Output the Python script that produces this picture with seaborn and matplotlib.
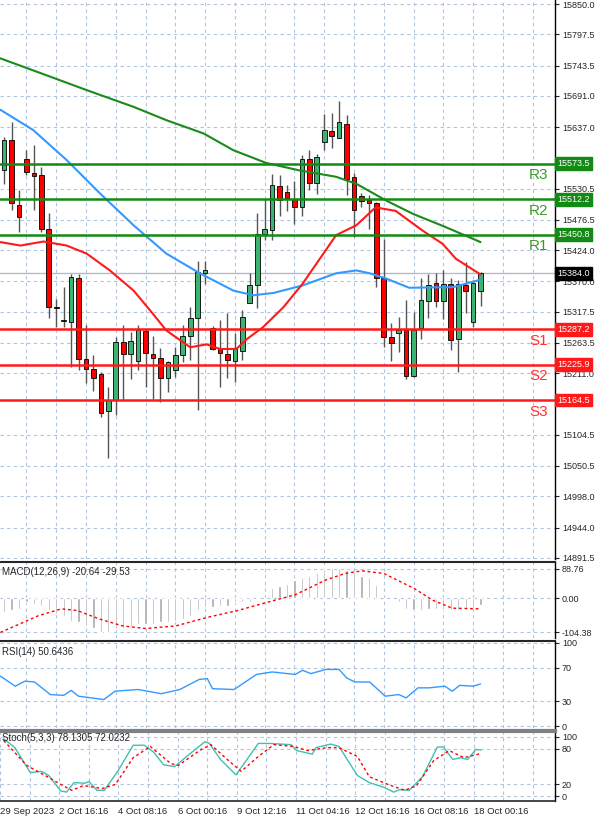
import numpy as np
import pandas as pd
import matplotlib
matplotlib.use("Agg")
import matplotlib.pyplot as plt
import seaborn as sns

# candles (one per 4H bar)
opens = [15562, 15614, 15503, 15581, 15558, 15554, 15461, 15325, 15302, 15299,
         15376, 15236, 15218, 15209, 15145, 15164, 15265, 15245, 15232, 15284,
         15245, 15238, 15203, 15217, 15242, 15276, 15306, 15385, 15290, 15255,
         15245, 15233, 15250, 15333, 15364, 15452, 15459, 15535, 15525, 15513,
         15498, 15581, 15540, 15611, 15630, 15619, 15643, 15550, 15517, 15511,
         15506, 15375, 15273, 15280, 15286, 15207, 15290, 15336, 15367, 15336,
         15366, 15270, 15363, 15300, 15353]
closes = [15614, 15505, 15481, 15559, 15552, 15461, 15325, 15324, 15302, 15378,
          15236, 15218, 15203, 15143, 15164, 15265, 15245, 15266, 15286, 15246,
          15238, 15203, 15230, 15243, 15276, 15306, 15386, 15390, 15253, 15246,
          15234, 15253, 15308, 15364, 15452, 15461, 15536, 15510, 15515, 15498,
          15581, 15540, 15585, 15632, 15621, 15645, 15548, 15493, 15509, 15506,
          15375, 15273, 15263, 15286, 15207, 15286, 15338, 15363, 15336, 15365,
          15269, 15366, 15353, 15368, 15384]
highs = [15620, 15646, 15528, 15597, 15606, 15568, 15488, 15340, 15360, 15383,
         15383, 15294, 15242, 15213, 15187, 15273, 15295, 15282, 15294, 15288,
         15275, 15255, 15233, 15256, 15294, 15325, 15406, 15405, 15292, 15303,
         15315, 15280, 15321, 15384, 15488, 15513, 15556, 15554, 15536, 15544,
         15588, 15597, 15591, 15660, 15662, 15682, 15658, 15557, 15523, 15519,
         15507, 15444, 15298, 15308, 15337, 15317, 15375, 15383, 15384, 15390,
         15375, 15372, 15403, 15372, 15386]
lows = [15539, 15493, 15455, 15554, 15494, 15455, 15306, 15291, 15291, 15221,
        15217, 15194, 15181, 15135, 15065, 15139, 15165, 15201, 15216, 15187,
        15166, 15161, 15178, 15204, 15230, 15234, 15147, 15365, 15251, 15188,
        15203, 15195, 15234, 15333, 15324, 15442, 15441, 15484, 15492, 15470,
        15484, 15529, 15521, 15597, 15600, 15619, 15519, 15447, 15498, 15461,
        15361, 15257, 15232, 15247, 15201, 15204, 15270, 15306, 15325, 15305,
        15251, 15214, 15315, 15291, 15328]

# moving averages: (bar, value)
ma_blue_x = [-0.5, 3.9, 8.4, 12.9, 17.4, 21.8, 26.3, 30.8, 33.5, 36.2, 40.1, 44.6, 47.3, 49.1, 51.3, 54.4, 60.3, 64]
ma_blue_y = [15667, 15632, 15580, 15522, 15467, 15418, 15384, 15354, 15346, 15350, 15363, 15384, 15389, 15384, 15375, 15359, 15360, 15373]
ma_red_x = [-0.5, 2.2, 5.3, 8.4, 11.1, 14.2, 17.4, 19.6, 21.8, 25, 27.2, 29, 31.2, 32.6, 34.8, 37.5, 40.1, 44.6, 47.3, 49.9, 52.6, 56.2, 58.9, 60.7, 64]
ma_red_y = [15438, 15432, 15439, 15432, 15418, 15389, 15354, 15320, 15285, 15256, 15261, 15253, 15253, 15270, 15291, 15325, 15366, 15450, 15467, 15498, 15492, 15458, 15435, 15409, 15382]
ma_green_x = [-0.5, 5, 11.1, 17.4, 21.8, 26.8, 30.8, 35.2, 39.7, 44.6, 47.3, 51.3, 54.9, 59.3, 64]
ma_green_y = [15756, 15730, 15701, 15672, 15649, 15626, 15597, 15575, 15562, 15551, 15539, 15510, 15487, 15464, 15438]

levels = {"R3": 15573.5, "R2": 15512.2, "R1": 15450.8, "S1": 15287.2, "S2": 15225.9, "S3": 15164.5}
last_price = 15384.0
price_ticks = [15850.0, 15797.5, 15743.5, 15691.0, 15637.0, 15530.5, 15476.5, 15424.0,
               15370.0, 15317.5, 15263.5, 15211.0, 15104.5, 15050.5, 14998.0, 14944.0, 14891.5]

macd_hist = [-43, -38, -33, -12, -17, -23, -38, -48, -54, -69, -74, -85, -90, -105, -105, -95,
             -90, -85, -80, -80, -80, -74, -74, -69, -64, -54, -38, -28, -28, -23, -23, -12,
             -12, -12, -2, 0, 31, 37, 44, 55, 65, 68, 75, 89, 91, 91, 86, 80, 68, 65, 41, 0,
             0, -12, -33, -38, -38, -33, -33, -35, -38, -38, -33, -31, -21]
macd_sig_x = [-0.5, 4.6, 7.7, 9.8, 12.8, 15.9, 19.0, 23.1, 27.3, 31.4, 35.5, 39.1, 43.2, 45.8, 48.1, 51.0, 55.1, 57.6, 60.2, 64]
macd_sig_y = [-105, -54, -33, -38, -64, -85, -93, -85, -59, -38, -12, 10, 55, 75, 83, 75, 29, -7, -31, -33]

rsi_x = [-0.5, 1.5, 2.8, 4.1, 6.2, 8.0, 9.0, 10.0, 13.4, 14.9, 18.0, 21.1, 23.6, 26.2, 27.3, 28.0, 30.9, 33.9, 36.0, 39.1, 40.1, 41.2, 43.2, 45.0, 46.0, 47.1, 49.1, 51.2, 53.0, 54.0, 55.6, 57.1, 59.2, 60.2, 61.2, 63.0, 64]
rsi_y = [60, 48, 54, 53, 38, 37, 43, 36, 32, 42, 44, 39, 44, 56, 57, 45, 44, 62, 65, 62, 67, 63, 68, 68, 58, 53, 53, 36, 38, 34, 46, 46, 48, 42, 49, 48, 50.6]

stk_x = [-0.5, 1.0, 3.1, 4.6, 5.6, 7.2, 8.0, 9.0, 10.5, 11.0, 12.1, 13.1, 14.9, 17.0, 18.5, 19.8, 21.1, 22.6, 24.7, 26.7, 27.3, 28.8, 30.9, 33.9, 35.5, 38.3, 39.1, 41.2, 41.7, 43.7, 44.8, 47.3, 48.9, 50.9, 52.2, 53.0, 54.3, 56.1, 58.1, 58.9, 60.2, 61.2, 62.2, 63.3, 64]
stk_y = [97, 82, 40, 42, 35, 9, 7, 23, 22, 25, 10, 10, 42, 86, 86, 74, 53, 50, 72, 92, 89, 62, 36, 89, 89, 87, 77, 71, 82, 88, 84, 35, 23, 15, 7, 11, 10, 33, 83, 83, 62, 65, 62, 79, 78]
std_x = [-0.5, 2.6, 5.1, 7.2, 8.7, 10.3, 12.8, 14.6, 17.0, 19.3, 22.1, 23.1, 26.2, 27.5, 29.8, 31.6, 33.9, 36.0, 38.6, 40.6, 43.2, 44.8, 47.3, 48.9, 51.4, 53.7, 55.3, 57.6, 59.7, 61.7, 64]
std_y = [94, 52, 35, 20, 10, 18, 13, 20, 65, 84, 55, 52, 79, 87, 61, 42, 67, 87, 84, 77, 82, 82, 67, 33, 20, 10, 18, 60, 77, 65, 72]

date_idx = [-1, 7, 15, 23, 31, 39, 47, 55, 63]
date_labels = ["29 Sep 2023", "2 Oct 16:16", "4 Oct 08:16", "6 Oct 00:16", "9 Oct 12:16",
               "11 Oct 04:16", "12 Oct 16:16", "16 Oct 08:16", "18 Oct 00:16"]

sns.set_style("white")
plt.rcParams["font.family"] = "Liberation Sans"
GREEN_C = "#3cb371"
RED_C = "#ff0000"
GRID = dict(color="#b0c4de", linestyle=(0, (3, 3)), linewidth=0.8)

fig = plt.figure(figsize=(6, 8.19), dpi=100)
W = 555 / 600
def panel(top, bot):
    return fig.add_axes([0, 1 - bot / 819, W, (bot - top) / 819])

ax = panel(0, 559)
ax_m = panel(562, 638)
ax_r = panel(641, 728)
ax_s = panel(731, 801)

xlim = (-0.55, 74)
grid_x = np.arange(-1, 75, 4)
n = len(opens)
idx = np.arange(n)

# main price panel
for i in idx:
    o, c, h, l = opens[i], closes[i], highs[i], lows[i]
    col = GREEN_C if c >= o else RED_C
    ax.vlines(i, l, h, color="#555555", linewidth=1, zorder=2)
    ax.bar(i, max(abs(c - o), 1.5), bottom=min(o, c), width=0.62, color=col,
           edgecolor="black", linewidth=0.6, zorder=3)

sns.lineplot(x=ma_green_x, y=ma_green_y, ax=ax, color="#1a8a1a", linewidth=1.5, zorder=4)
sns.lineplot(x=ma_blue_x, y=ma_blue_y, ax=ax, color="#3399ff", linewidth=1.5, zorder=4)
sns.lineplot(x=ma_red_x, y=ma_red_y, ax=ax, color="#ff1a1a", linewidth=1.5, zorder=4)

ax.axhline(last_price, color="#b0bcd0", linewidth=1, zorder=1)
for name, v in levels.items():
    col = "#138a13" if name.startswith("R") else "#ff1a1a"
    tcol = "#3c9a2c" if name.startswith("R") else "#ff3333"
    ax.axhline(v, color=col, linewidth=1.8, zorder=5)
    ax.text(71.8, v - 20, name, color=tcol, fontsize=11, ha="center", va="center")
    ax.text(1.004, v, f"{v:.1f}", transform=ax.get_yaxis_transform(), fontsize=6.5,
            color="white", va="center", ha="left",
            bbox=dict(boxstyle="square,pad=0.2", fc=col, ec=col), clip_on=False, zorder=6)
ax.text(1.004, last_price, f"{last_price:.1f}", transform=ax.get_yaxis_transform(), fontsize=6.5,
        color="white", va="center", ha="left",
        bbox=dict(boxstyle="square,pad=0.2", fc="black", ec="black"), clip_on=False, zorder=6)
ax.set_ylim(14889.5, 15857)
ax.set_yticks(price_ticks)
ax.set_yticklabels([f"{t:.1f}" for t in price_ticks])

# MACD panel
ax_m.bar(idx, macd_hist, width=0.3, color="#a8a8a8")
sns.lineplot(x=macd_sig_x, y=macd_sig_y, ax=ax_m, color="red", linewidth=1, linestyle=(0, (2, 2)))
ax_m.set_ylim(-122, 110)
ax_m.set_yticks([88.76, 0.0, -104.38])
ax_m.set_yticklabels(["88.76", "0.00", "-104.38"])
ax_m.text(0.003, 0.93, "MACD(12,26,9) -20.64 -29.53", transform=ax_m.transAxes, fontsize=7, va="top")

# RSI panel
sns.lineplot(x=rsi_x, y=rsi_y, ax=ax_r, color="#3399ff", linewidth=1)
ax_r.set_ylim(-2, 102)
ax_r.set_yticks([100, 70, 30, 0])
ax_r.text(0.003, 0.93, "RSI(14) 50.6436", transform=ax_r.transAxes, fontsize=7, va="top")

# Stochastic panel
sns.lineplot(x=stk_x, y=stk_y, ax=ax_s, color="#40c0b0", linewidth=1)
sns.lineplot(x=std_x, y=std_y, ax=ax_s, color="red", linewidth=1, linestyle=(0, (2, 2)))
ax_s.set_ylim(-8, 110)
ax_s.set_yticks([100, 80, 20, 0])
ax_s.text(0.003, 0.97, "Stoch(5,3,3) 78.1305 72.0232", transform=ax_s.transAxes, fontsize=7, va="top")

for a in (ax, ax_m, ax_r, ax_s):
    a.set_xlim(*xlim)
    for gx in grid_x:
        a.axvline(gx, **GRID, zorder=0)
    for t in a.get_yticks():
        a.axhline(t, **GRID, zorder=0)
    a.yaxis.tick_right()
    a.tick_params(axis="y", labelsize=6.5, length=3, pad=2, direction="out", right=True)
    a.set_xticks([])
    for s in ("left", "top", "bottom"):
        a.spines[s].set_visible(False)
    a.spines["right"].set_color("black")
    a.spines["right"].set_linewidth(1)
    a.set_xlabel("")
    a.set_ylabel("")
    if a.get_legend():
        a.get_legend().remove()

# panel separators
for a in (ax_m, ax_r):
    a.spines["top"].set_visible(True)
    a.spines["top"].set_linewidth(1.5)
ax_s.spines["top"].set_visible(True)
ax_s.spines["top"].set_color("#808080")
ax_s.spines["top"].set_linewidth(3)
ax_s.spines["bottom"].set_visible(True)
ax_s.spines["bottom"].set_linewidth(1.2)

ax_s.set_xticks(date_idx)
ax_s.set_xticklabels(date_labels, fontsize=6.8, ha="left")
ax_s.tick_params(axis="x", length=0, pad=4)

fig.savefig("out.png", dpi=100)
